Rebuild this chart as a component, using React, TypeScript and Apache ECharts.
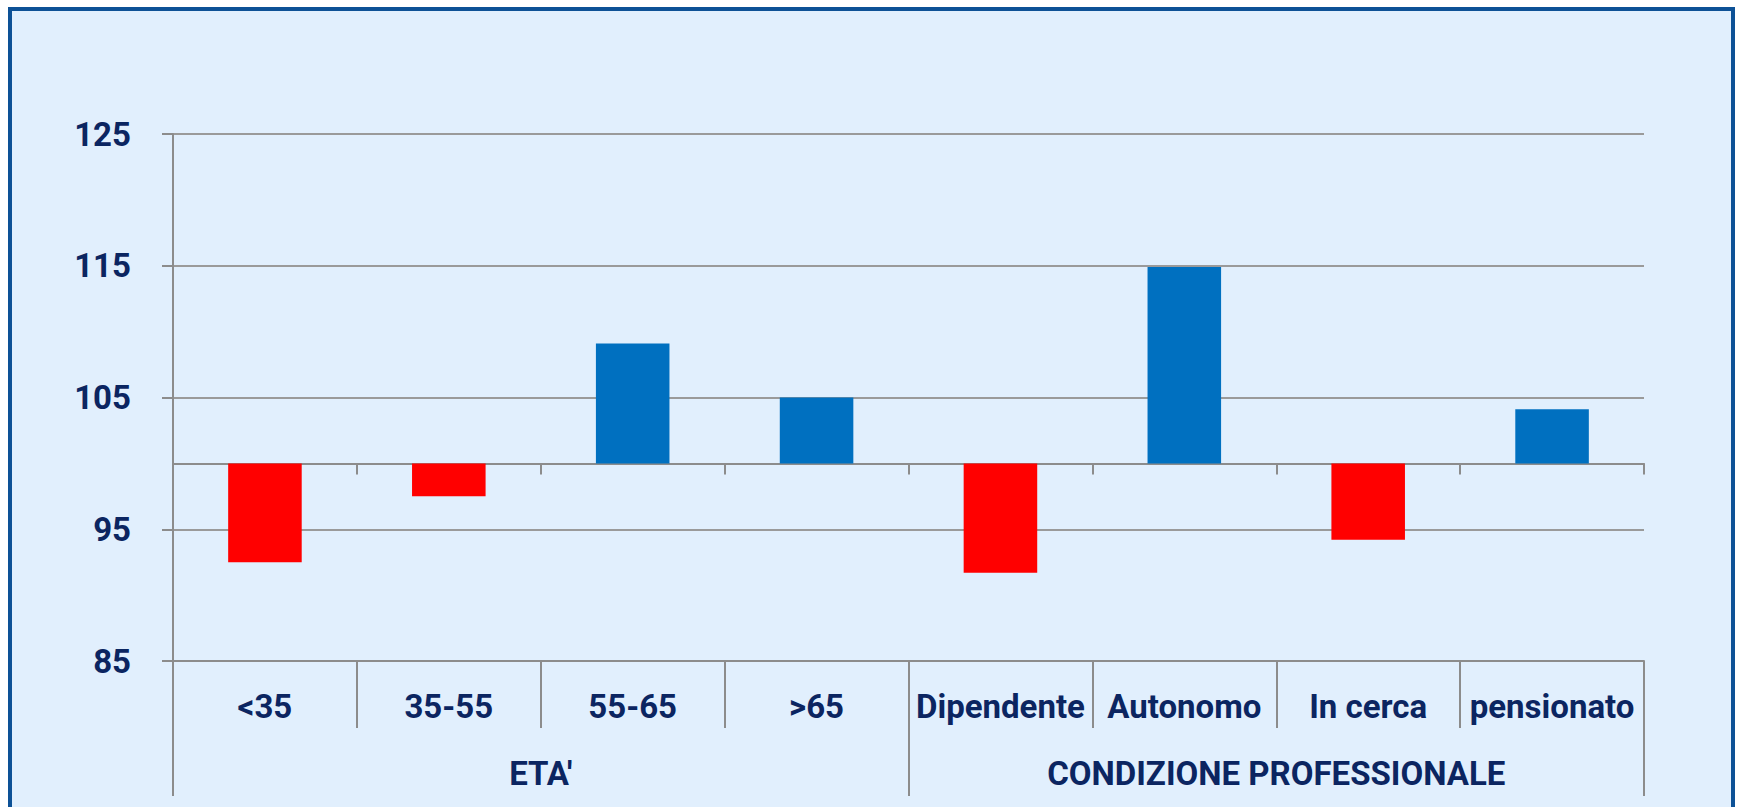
import React, { useEffect, useRef } from 'react';
import * as echarts from 'echarts';

const categories = ['<35', '35-55', '55-65', '>65', 'Dipendente', 'Autonomo', 'In cerca', 'pensionato'];
const groups = ["ETA'", 'CONDIZIONE PROFESSIONALE'];
const values = [92.5, 97.5, 109.1, 105.0, 91.7, 114.9, 94.2, 104.1];
const baseline = 100;
const yTicks = [85, 95, 105, 115, 125];

const TEXT = '#0b2561';
const FONT = "Roboto, 'Liberation Sans', sans-serif";
const GRID_COLOR = '#9a9a9a';
const AXIS_COLOR = '#8c8c8c';

export default function App() {
  const ref = useRef<HTMLDivElement>(null);

  useEffect(() => {
    if (!ref.current) return;
    const chart = echarts.init(ref.current, undefined, { renderer: 'svg' });
    const labelStyle = {
      fontSize: 33,
      fontWeight: 'bold' as const,
      color: TEXT,
      fontFamily: FONT,
      lineHeight: 36,
    };
    chart.setOption({
      animation: false,
      backgroundColor: 'transparent',
      grid: { left: 173, right: 94, top: 134, bottom: 146, containLabel: false },
      xAxis: [
        {
          type: 'category',
          data: categories,
          position: 'bottom',
          axisLine: { show: true, onZero: true, lineStyle: { color: AXIS_COLOR, width: 2 } },
          axisTick: { show: true, length: 11, lineStyle: { color: AXIS_COLOR, width: 2 } },
          axisLabel: { show: false },
          splitLine: { show: false },
        },
        {
          type: 'category',
          data: categories,
          position: 'bottom',
          axisLine: { show: true, onZero: false, lineStyle: { color: AXIS_COLOR, width: 2 } },
          axisTick: { show: true, length: 67, lineStyle: { color: AXIS_COLOR, width: 2 } },
          axisLabel: { ...labelStyle, margin: 27, interval: 0 },
          splitLine: { show: false },
        },
        {
          type: 'category',
          data: groups,
          position: 'bottom',
          offset: 67,
          axisLine: { show: false, onZero: false },
          axisTick: { show: true, length: 68, lineStyle: { color: AXIS_COLOR, width: 2 } },
          axisLabel: { ...labelStyle, margin: 27, interval: 0 },
          splitLine: { show: false },
        },
      ],
      yAxis: {
        type: 'value',
        min: yTicks[0] - baseline,
        max: yTicks[yTicks.length - 1] - baseline,
        interval: yTicks[1] - yTicks[0],
        axisLine: { show: true, lineStyle: { color: AXIS_COLOR, width: 2 } },
        axisTick: { show: true, length: 11, lineStyle: { color: AXIS_COLOR, width: 2 } },
        axisLabel: {
          ...labelStyle,
          margin: 42,
          formatter: (v: number) => String(Math.round(v + baseline)),
        },
        splitLine: { show: true, lineStyle: { color: GRID_COLOR, width: 2 } },
      },
      series: [
        {
          type: 'bar',
          xAxisIndex: 0,
          barWidth: '40%',
          data: values.map((v) => ({
            value: +(v - baseline).toFixed(2),
            itemStyle: { color: v < baseline ? '#ff0000' : '#0070c0' },
          })),
        },
      ],
    });
    return () => chart.dispose();
  }, []);

  return (
    <div style={{ position: 'fixed', left: 0, top: 0, width: 1738, height: 807, background: '#ffffff', overflow: 'hidden' }}>
      <div
        style={{
          position: 'absolute',
          left: 8,
          top: 7,
          width: 1727,
          height: 830,
          boxSizing: 'border-box',
          border: '4px solid #0d5196',
          background: '#e1effd',
        }}
      />
      <div ref={ref} style={{ position: 'absolute', left: 0, top: 0, width: 1738, height: 807 }} />
    </div>
  );
}
